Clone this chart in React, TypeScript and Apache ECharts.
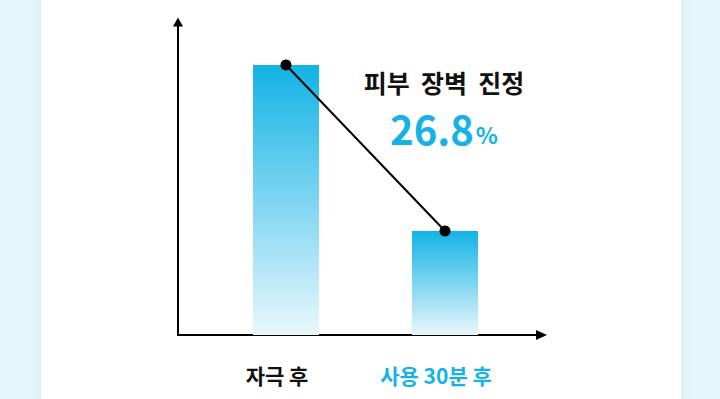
import React, { useEffect, useRef } from "react";
import * as echarts from "echarts";

const categories = ["자극 후", "사용 30분 후"];
const barValues = [100, 38.5];
const lineValues = [100, 38.5];
const labelColors = ["#111111", "#15b2e4"];
const headline = "피부  장벽  진정";
const changeValue = "26.8";
const changeUnit = "%";

const FONT = "'Noto Sans CJK KR', 'Noto Sans', sans-serif";

export default function App() {
  const ref = useRef<HTMLDivElement>(null);
  useEffect(() => {
    if (!ref.current) return;
    const chart = echarts.init(ref.current, null, { renderer: "svg" });
    const barGradient = new echarts.graphic.LinearGradient(0, 0, 0, 1, [
      { offset: 0, color: "#12b3e5" },
      { offset: 1, color: "#e9f7fd" },
    ]);
    chart.setOption({
      animation: false,
      backgroundColor: "#e5f6fc",
      graphic: [
        {
          type: "rect",
          z: -10,
          silent: true,
          shape: { x: 41, y: -20, width: 640, height: 440 },
          style: {
            fill: "#ffffff",
            shadowBlur: 14,
            shadowColor: "rgba(0, 110, 160, 0.10)",
          },
        },
        {
          type: "text",
          x: 444,
          y: 82,
          style: {
            text: headline,
            fontFamily: FONT,
            fontSize: 25,
            lineHeight: 26,
            fontWeight: 700,
            fill: "#111111",
            align: "center",
            verticalAlign: "middle",
          },
        },
        {
          type: "text",
          x: 444,
          y: 128,
          style: {
            text: `{n|${changeValue}}{u|${changeUnit}}`,
            align: "center",
            verticalAlign: "middle",
            fill: "#15b2e4",
            rich: {
              n: {
                fontFamily: FONT,
                fontSize: 40,
                lineHeight: 34,
                fontWeight: 700,
                fill: "#15b2e4",
              },
              u: {
                fontFamily: FONT,
                fontSize: 23,
                lineHeight: 34,
                fontWeight: 700,
                fill: "#15b2e4",
                verticalAlign: "bottom",
                padding: [0, 0, 0, 2],
              },
            },
          },
        },
      ],
      grid: [
        { left: 206.5, width: 318, top: 65, bottom: 64 },
        { left: 178, right: 178.5, top: 22, bottom: 64 },
      ],
      xAxis: [
        {
          type: "category",
          gridIndex: 0,
          data: categories,
          axisLine: { show: false },
          axisTick: { show: false },
          axisLabel: {
            margin: 29,
            fontFamily: FONT,
            fontSize: 21,
            fontWeight: 700,
            padding: [0, 18, 0, 0],
            color: (_v: string, i: number) => labelColors[i],
          },
        },
        {
          type: "value",
          gridIndex: 1,
          min: 0,
          max: 1,
          axisLine: {
            show: true,
            symbol: ["none", "triangle"],
            symbolSize: [10, 11],
            lineStyle: { color: "#000000", width: 2 },
          },
          axisTick: { show: false },
          axisLabel: { show: false },
          splitLine: { show: false },
        },
      ],
      yAxis: [
        {
          type: "value",
          gridIndex: 0,
          min: 0,
          max: 100,
          show: false,
        },
        {
          type: "value",
          gridIndex: 1,
          min: 0,
          max: 1,
          axisLine: {
            show: true,
            symbol: ["none", "triangle"],
            symbolSize: [10, 9],
            lineStyle: { color: "#000000", width: 2 },
          },
          axisTick: { show: false },
          axisLabel: { show: false },
          splitLine: { show: false },
        },
      ],
      series: [
        {
          type: "bar",
          xAxisIndex: 0,
          yAxisIndex: 0,
          data: barValues,
          barWidth: 66,
          itemStyle: { color: barGradient },
          silent: true,
        },
        {
          type: "line",
          xAxisIndex: 0,
          yAxisIndex: 0,
          data: lineValues,
          symbol: "circle",
          symbolSize: 11,
          lineStyle: { color: "#000000", width: 2 },
          itemStyle: { color: "#000000" },
          z: 5,
          silent: true,
        },
      ],
    });
    return () => chart.dispose();
  }, []);
  return (
    <div
      ref={ref}
      style={{ position: "fixed", left: 0, top: 0, width: 720, height: 399 }}
    />
  );
}
